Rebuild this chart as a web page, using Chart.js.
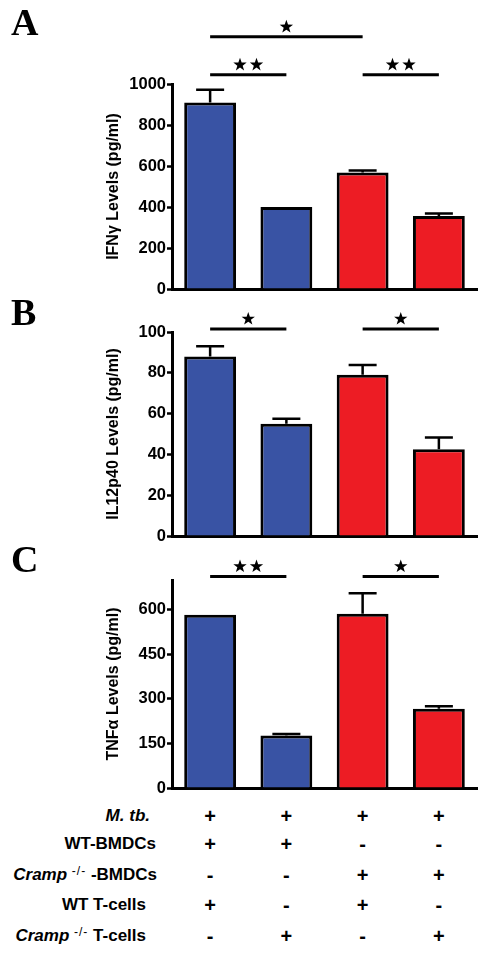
<!DOCTYPE html>
<html><head><meta charset="utf-8">
<script src="https://cdn.jsdelivr.net/npm/chart.js@4"></script>
<style>
html,body{margin:0;padding:0;background:#fff;}
#wrap{position:relative;width:491px;height:957px;overflow:hidden;font-family:"Liberation Sans",Arial,sans-serif;color:#000;}
canvas{position:absolute;left:0;}
.letter{position:absolute;font-family:"Liberation Serif","Times New Roman",serif;font-weight:bold;font-size:38px;line-height:38px;}
.lab{position:absolute;font-weight:bold;font-size:17px;line-height:20px;white-space:nowrap;text-align:right;}
.lab sup{font-weight:normal;font-size:12px;letter-spacing:1px;vertical-align:5px;line-height:0;}
.sym{position:absolute;font-weight:bold;font-size:20px;line-height:20px;width:40px;text-align:center;}
</style></head><body><div id="wrap">
<canvas id="cA" width="491" height="300" style="top:0"></canvas>
<canvas id="cB" width="491" height="250" style="top:300px"></canvas>
<canvas id="cC" width="491" height="250" style="top:550px"></canvas>
<div class="letter" style="left:11px;top:3px">A</div>
<div class="letter" style="left:11px;top:293px">B</div>
<div class="letter" style="left:11px;top:540px">C</div>
</div>
<script>
// ---- data ----
const groups = ['G1', 'G2', 'G3', 'G4'];
const barColors = ['#3953a4', '#3953a4', '#ed1c24', '#ed1c24'];

const ifnValues = [910, 400, 568, 356];
const ifnErrors = [62, 0, 10, 12];
const ifnTicks = [0, 200, 400, 600, 800, 1000];
const ifnSig = [[0, 1, 2, 1045], [2, 3, 2, 1045], [0, 2, 1, 1230]];

const il12Values = [88, 55, 79, 42.5];
const il12Errors = [5, 2.5, 4.8, 5.8];
const il12Ticks = [0, 20, 40, 60, 80, 100];
const il12Sig = [[0, 1, 1, 101.5], [2, 3, 1, 101.5]];

const tnfValues = [583, 177, 586, 267];
const tnfErrors = [0, 5, 69, 8];
const tnfTicks = [0, 150, 300, 450, 600];
const tnfSig = [[0, 1, 2, 712], [2, 3, 1, 712]];

const rowLabels = ['<i>M. tb.</i>', 'WT-BMDCs', '<i>Cramp</i> <sup>-/-</sup> -BMDCs', 'WT T-cells', '<i>Cramp</i> <sup>-/-</sup> T-cells'];
const rowMarks = [
  ['+', '+', '+', '+'],
  ['+', '+', '-', '-'],
  ['-', '-', '+', '+'],
  ['+', '-', '+', '-'],
  ['-', '+', '-', '+']
];

// ---- drawing ----
const FONT = '"Liberation Sans", Arial, sans-serif';

function errPlugin(values, errors) {
  return {
    id: 'err',
    afterDatasetsDraw(chart) {
      const ctx = chart.ctx, meta = chart.getDatasetMeta(0), ys = chart.scales.y;
      ctx.save();
      ctx.strokeStyle = '#000'; ctx.lineWidth = 2.5;
      errors.forEach((e, i) => {
        if (!e) return;
        const x = meta.data[i].x;
        const y0 = ys.getPixelForValue(values[i]);
        const y1 = ys.getPixelForValue(values[i] + e);
        ctx.beginPath();
        ctx.moveTo(x, y0); ctx.lineTo(x, y1);
        ctx.moveTo(x - 14, y1); ctx.lineTo(x + 14, y1);
        ctx.stroke();
      });
      ctx.restore();
    }
  };
}

function star(ctx, cx, cy, R) {
  const r = R * 0.40;
  ctx.beginPath();
  for (let k = 0; k < 10; k++) {
    const rad = k % 2 ? r : R;
    const a = -Math.PI / 2 + k * Math.PI / 5;
    const px = cx + rad * Math.cos(a), py = cy + rad * Math.sin(a);
    k ? ctx.lineTo(px, py) : ctx.moveTo(px, py);
  }
  ctx.closePath();
  ctx.fill();
}

function sigPlugin(sig) {
  return {
    id: 'sig',
    afterDraw(chart) {
      const ctx = chart.ctx, xs = chart.scales.x, ys = chart.scales.y;
      ctx.save();
      ctx.strokeStyle = '#000'; ctx.fillStyle = '#000'; ctx.lineWidth = 3;
      sig.forEach(([a, b, n, v]) => {
        const x1 = xs.getPixelForValue(a), x2 = xs.getPixelForValue(b);
        const y = ys.getPixelForValue(v);
        ctx.beginPath(); ctx.moveTo(x1, y); ctx.lineTo(x2, y); ctx.stroke();
        const mid = (x1 + x2) / 2, gap = 16.5;
        for (let k = 0; k < n; k++) {
          star(ctx, mid + (k - (n - 1) / 2) * gap, y - 10, 7);
        }
      });
      ctx.restore();
    }
  };
}

function makeChart(id, values, errors, ticks, max, title, sig, padTop, padBottom) {
  return new Chart(document.getElementById(id), {
    type: 'bar',
    data: {
      labels: groups,
      datasets: [{
        data: values, backgroundColor: barColors, borderColor: '#000', borderWidth: 3,
        borderSkipped: 'start', barPercentage: 0.68, categoryPercentage: 1
      }]
    },
    options: {
      responsive: false, animation: false, devicePixelRatio: 1,
      layout: { padding: { left: 100, right: 14, top: padTop, bottom: padBottom } },
      plugins: { legend: { display: false }, tooltip: { enabled: false } },
      scales: {
        x: {
          grid: { display: false },
          border: { display: true, color: '#000', width: 3 },
          ticks: { display: false },
          afterFit: s => { s.height = 0; }
        },
        y: {
          min: 0, max: max,
          afterBuildTicks: s => { s.ticks = ticks.map(v => ({ value: v })); },
          afterFit: s => { s.width = 72; },
          grid: { display: true, drawOnChartArea: false, drawTicks: true, tickLength: 5, tickWidth: 2.5, tickColor: '#000', color: '#000' },
          border: { display: true, color: '#000', width: 3 },
          ticks: { color: '#000', padding: 1, callback: v => String(v), font: { family: FONT, size: 16.5, weight: 'bold' } },
          title: { display: true, text: title, color: '#000', padding: { top: 4, bottom: 0 }, font: { family: FONT, size: 16, weight: 'bold' } }
        }
      }
    },
    plugins: [errPlugin(values, errors), sigPlugin(sig)]
  });
}

makeChart('cA', ifnValues, ifnErrors, ifnTicks, 1000, 'IFNγ Levels (pg/ml)', ifnSig, 84, 11);
makeChart('cB', il12Values, il12Errors, il12Ticks, 100, 'IL12p40 Levels (pg/ml)', il12Sig, 32, 14);
const chartC = makeChart('cC', tnfValues, tnfErrors, tnfTicks, 700, 'TNFα Levels (pg/ml)', tnfSig, 30, 12);

// ---- condition table ----
const wrap = document.getElementById('wrap');
const rowCenters = [816, 844, 875, 905, 936];
const labelRight = [150, 156, 157, 146, 146];
const colX = groups.map((g, i) => chartC.scales.x.getPixelForValue(i));
rowLabels.forEach((lab, r) => {
  const d = document.createElement('div');
  d.className = 'lab';
  d.innerHTML = lab;
  d.style.right = (491 - labelRight[r]) + 'px';
  d.style.top = (rowCenters[r] - 10) + 'px';
  wrap.appendChild(d);
  rowMarks[r].forEach((m, c) => {
    const s = document.createElement('div');
    s.className = 'sym';
    s.textContent = m;
    s.style.left = (colX[c] - 20) + 'px';
    s.style.top = (rowCenters[r] - 10) + 'px';
    wrap.appendChild(s);
  });
});
</script>
</body></html>
